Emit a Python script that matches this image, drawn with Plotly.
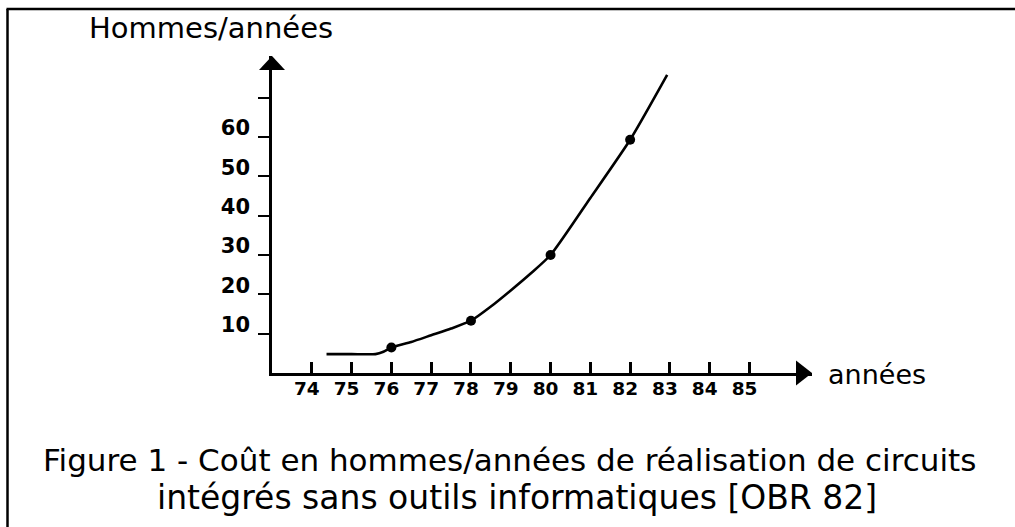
import plotly.graph_objects as go

# ---- data ----
curve_years = [74.37, 75.0, 75.6, 75.8, 76, 76.5, 77, 77.5, 78, 78.5, 79, 79.5, 80, 81, 82, 82.93]
curve_values = [4.8, 4.8, 4.8, 5.4, 6.5, 7.9, 9.6, 11.3, 13.3, 16.9, 21.0, 25.3, 30.0, 44.5, 59.3, 75.8]
dot_years = [76, 78, 80, 82]
dot_values = [6.5, 13.3, 30.0, 59.3]

x_tick_vals = [74, 75, 76, 77, 78, 79, 80, 81, 82, 83, 84, 85]
x_tick_text = ["74", "75", "76", "77", "78", "79", "80", "81", "82", "83", "84", "85"]
y_tick_vals = [10, 20, 30, 40, 50, 60, 70]
y_tick_text = ["10", "20", "30", "40", "50", "60", ""]

x_range = [73, 86.57]
y_range = [0, 80.6]

y_title = "Hommes/années"
x_title = "années"
caption_1 = "Figure 1 - Coût en hommes/années de réalisation de circuits"
caption_2 = "intégrés sans outils informatiques [OBR 82]"

FONT = "DejaVu Sans"
INK = "black"

W, H = 1015, 527
ML, MR, MT, MB = 272, 203, 56, 154
PW, PH = W - ML - MR, H - MT - MB


def px_to_paper_x(px):
    return (px - ML) / PW


def px_to_paper_y(py):
    return (H - MB - py) / PH


fig = go.Figure()

fig.add_trace(go.Scatter(
    x=curve_years, y=curve_values, mode="lines",
    line=dict(color=INK, width=2.6, shape="spline", smoothing=0.6),
    hoverinfo="skip", showlegend=False,
))
fig.add_trace(go.Scatter(
    x=dot_years, y=dot_values, mode="markers",
    marker=dict(color=INK, size=10),
    showlegend=False,
))

fig.update_layout(
    width=W, height=H,
    margin=dict(l=ML, r=MR, t=MT, b=MB, pad=0),
    paper_bgcolor="white", plot_bgcolor="white",
    font=dict(family=FONT, color=INK),
    showlegend=False,
    xaxis=dict(
        range=x_range, showgrid=False, zeroline=False,
        showline=True, linecolor=INK, linewidth=2.5,
        tickmode="array", tickvals=x_tick_vals, ticktext=x_tick_text,
        ticks="inside", ticklen=11, tickwidth=2.5, tickcolor=INK,
        tickfont=dict(family=FONT, size=18.5, color=INK, weight="bold"),
        ticklabelshift=-5, ticklabelstandoff=-3,
    ),
    yaxis=dict(
        range=y_range, showgrid=False, zeroline=False,
        showline=True, linecolor=INK, linewidth=2.5,
        tickmode="array", tickvals=y_tick_vals, ticktext=y_tick_text,
        ticks="outside", ticklen=11, tickwidth=2, tickcolor=INK,
        tickfont=dict(family=FONT, size=21, color=INK, weight="bold"),
        ticklabelshift=-9, ticklabelstandoff=4,
    ),
)

# arrow heads at the ends of the axes
fig.add_shape(type="path", xref="paper", yref="paper", xsizemode="pixel", ysizemode="pixel",
              xanchor=0, yanchor=1,
              path="M -13 -14 L 0 0 L 13 -14 Z", fillcolor=INK, line=dict(width=0))
fig.add_shape(type="path", xref="paper", yref="paper", xsizemode="pixel", ysizemode="pixel",
              xanchor=1, yanchor=0,
              path="M -16 12.5 L 0 0 L -16 -12.5 Z", fillcolor=INK, line=dict(width=0))

# frame (left and top edges)
fig.add_shape(type="line", xref="paper", yref="paper",
              x0=px_to_paper_x(7.5), x1=px_to_paper_x(7.5),
              y0=px_to_paper_y(9), y1=px_to_paper_y(H + 5),
              line=dict(color=INK, width=2.5))
fig.add_shape(type="line", xref="paper", yref="paper",
              x0=px_to_paper_x(6.5), x1=px_to_paper_x(W + 5),
              y0=px_to_paper_y(9), y1=px_to_paper_y(9),
              line=dict(color=INK, width=2.5))

fig.add_annotation(text=y_title, xref="paper", yref="paper",
                   x=px_to_paper_x(211), y=px_to_paper_y(28),
                   xanchor="center", yanchor="middle", showarrow=False,
                   font=dict(family=FONT, size=29, color=INK))
fig.add_annotation(text=x_title, xref="paper", yref="paper",
                   x=px_to_paper_x(826), y=px_to_paper_y(374),
                   xanchor="left", yanchor="middle", showarrow=False,
                   font=dict(family=FONT, size=27, color=INK))
fig.add_annotation(text=caption_1, xref="paper", yref="paper",
                   x=px_to_paper_x(509), y=px_to_paper_y(460),
                   xanchor="center", yanchor="middle", showarrow=False,
                   font=dict(family=FONT, size=31, color=INK))
fig.add_annotation(text=caption_2, xref="paper", yref="paper",
                   x=px_to_paper_x(517), y=px_to_paper_y(497),
                   xanchor="center", yanchor="middle", showarrow=False,
                   font=dict(family=FONT, size=33, color=INK))

fig.write_html("out.html", config={"displayModeBar": False},
               post_script="document.body.style.margin='0';document.body.style.padding='0';")
